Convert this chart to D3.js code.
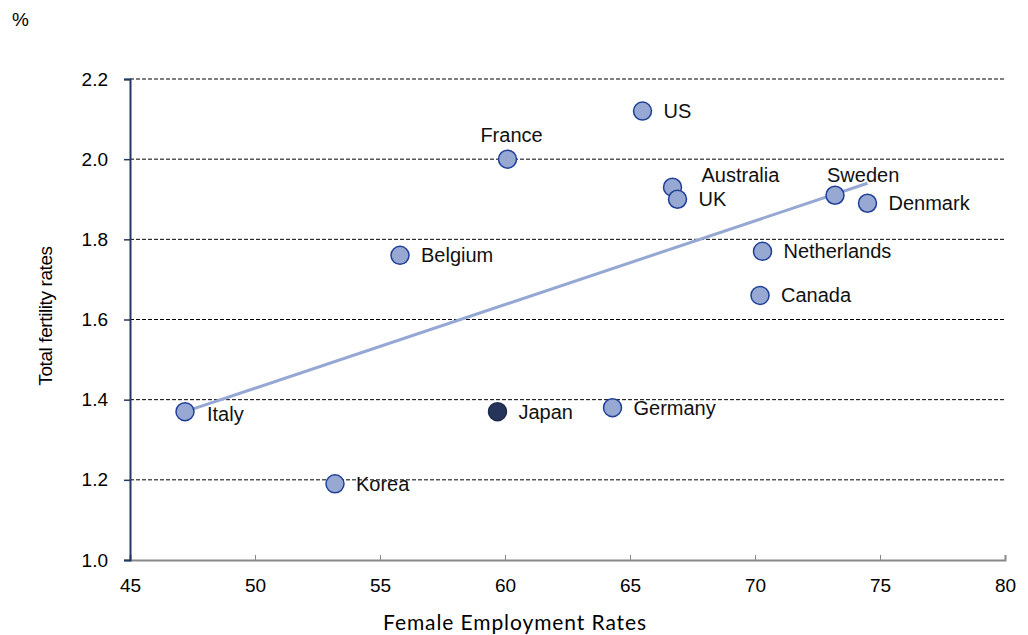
<!DOCTYPE html>
<html>
<head>
<meta charset="utf-8">
<script src="https://cdn.jsdelivr.net/npm/d3@7.9.0/dist/d3.min.js"></script>
<style>
  body { margin: 0; background: #fff; }
  svg { display: block; font-family: "Liberation Sans", Arial, sans-serif; }
</style>
</head>
<body>
<svg width="1028" height="635"></svg>
<script>
// values
const countries = ['US', 'France', 'Australia', 'UK', 'Sweden', 'Denmark', 'Belgium',
    'Netherlands', 'Canada', 'Italy', 'Japan', 'Germany', 'Korea'];
const employment = [65.5, 60.1, 66.7, 66.9, 73.2, 74.5, 55.8, 70.3, 70.2, 47.2, 59.7, 64.3, 53.2];
const fertility = [2.12, 2.00, 1.93, 1.90, 1.91, 1.89, 1.76, 1.77, 1.66, 1.37, 1.37, 1.38, 1.19];
const trendX = [47.2, 74.5];
const trendY = [1.37, 1.94];
const xTicks = [45, 50, 55, 60, 65, 70, 75, 80];
const yTicks = [1.0, 1.2, 1.4, 1.6, 1.8, 2.0, 2.2];
const highlight = 'Japan';

// label offsets from the dot (most sit to the right)
const labelOffset = {
    France: [4, -24, 'middle'],
    Australia: [29, -12, 'start'],
    Sweden: [-8, -20, 'start'],
    Italy: [22, 2, 'start']
};

const svg = d3.select('svg');
const margin = {left: 130, right: 23, top: 79, bottom: 75};
const width = 1028, height = 635;
const font = '"Liberation Sans", Arial, sans-serif';

let x = d3.scaleLinear().domain([45, 80]).range([margin.left, width - margin.right]);
let y = d3.scaleLinear().domain([1.0, 2.2]).range([height - margin.bottom, margin.top]);

// gridlines
svg.append('g')
    .selectAll('line')
    .data(yTicks.filter(d => d > 1.0))
    .join('line')
    .attr('x1', x(45)).attr('x2', x(80))
    .attr('y1', d => y(d)).attr('y2', d => y(d))
    .attr('stroke', '#000')
    .attr('stroke-width', 1)
    .attr('stroke-dasharray', '4,2');

// x axis
let xAxis = svg.append('g')
    .attr('transform', `translate(0,${y(1.0)})`)
    .call(d3.axisBottom(x).tickValues(xTicks).tickFormat(d3.format('d')).tickSize(-5).tickPadding(19));
xAxis.select('.domain').attr('stroke', '#888').attr('stroke-width', 2);
xAxis.selectAll('.tick line').attr('stroke', '#888');
xAxis.selectAll('text').attr('font-size', 19).attr('fill', '#000').attr('font-family', font);

// y axis
let yAxis = svg.append('g')
    .attr('transform', `translate(${x(45)},0)`)
    .call(d3.axisLeft(y).tickValues(yTicks).tickFormat(d3.format('.1f')).tickSize(6).tickPadding(16));
yAxis.select('.domain').attr('stroke', '#1f3864').attr('stroke-width', 2);
yAxis.selectAll('.tick line').attr('stroke', '#1f3864').attr('stroke-width', 1.5);
yAxis.selectAll('text').attr('font-size', 19).attr('fill', '#000').attr('font-family', font);

// trend line
svg.append('line')
    .attr('x1', x(trendX[0])).attr('y1', y(trendY[0]))
    .attr('x2', x(trendX[1])).attr('y2', y(trendY[1]))
    .attr('stroke', '#95a8d4')
    .attr('stroke-width', 3);

let points = countries.map((c, i) => ({name: c, ex: employment[i], fr: fertility[i]}));

svg.append('g')
    .selectAll('circle')
    .data(points)
    .join('circle')
    .attr('cx', d => x(d.ex))
    .attr('cy', d => y(d.fr))
    .attr('r', 9)
    .attr('fill', d => d.name === highlight ? '#263459' : '#97a9d2')
    .attr('stroke', d => d.name === highlight ? '#1d2a4d' : '#1f3f99')
    .attr('stroke-width', 1.5);

svg.append('g')
    .selectAll('text')
    .data(points)
    .join('text')
    .attr('font-size', 20)
    .attr('fill', '#111')
    .attr('dominant-baseline', 'central')
    .attr('text-anchor', d => (labelOffset[d.name] || [0, 0, 'start'])[2])
    .attr('x', d => x(d.ex) + (labelOffset[d.name] || [21])[0])
    .attr('y', d => y(d.fr) + (labelOffset[d.name] || [21, 0])[1])
    .text(d => d.name);

// axis titles
svg.append('text')
    .attr('transform', `translate(52,316) rotate(-90)`)
    .attr('text-anchor', 'middle')
    .attr('font-size', 19)
    .attr('letter-spacing', -0.4)
    .text('Total fertility rates');

svg.append('text')
    .attr('x', 515)
    .attr('y', 630)
    .attr('text-anchor', 'middle')
    .attr('font-family', 'Lato, "Open Sans", sans-serif')
    .attr('font-size', 21)
    .attr('letter-spacing', 0.9)
    .text('Female Employment Rates');

svg.append('text')
    .attr('x', 12)
    .attr('y', 26)
    .attr('font-size', 19)
    .text('%');
</script>
</body>
</html>
